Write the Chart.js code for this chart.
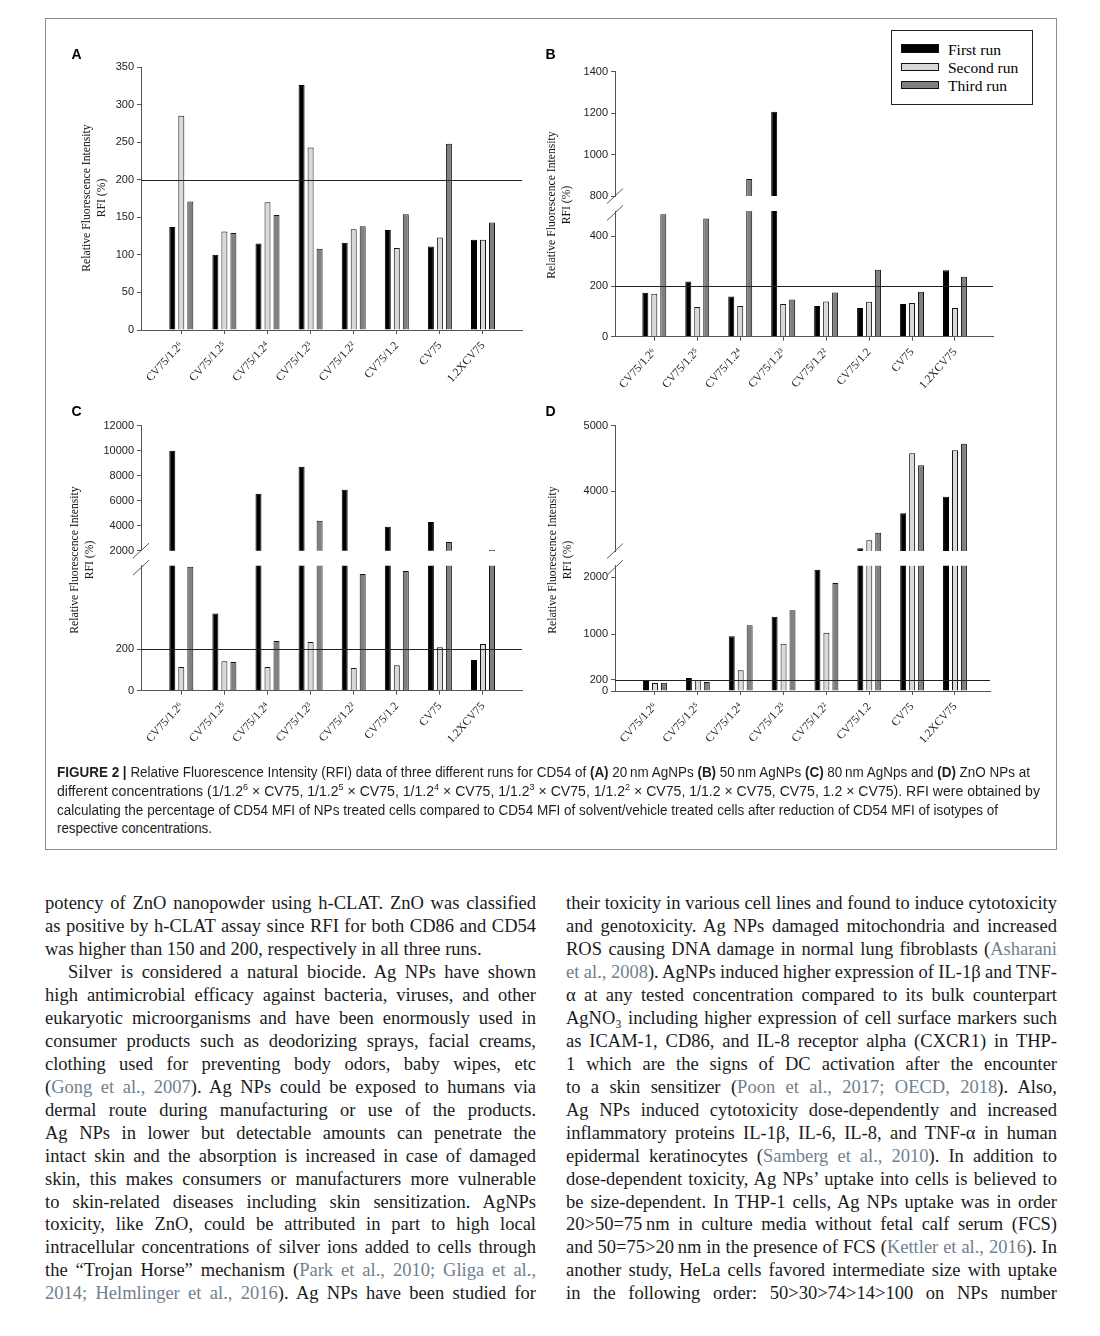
<!DOCTYPE html>
<html lang="en">
<head>
<meta charset="utf-8">
<title>Figure 2 – Relative Fluorescence Intensity (RFI) for CD54</title>
<script src="https://cdn.jsdelivr.net/npm/chart.js@4.4.1/dist/chart.umd.min.js"></script>
<style>
  html,body{margin:0;padding:0;background:#fff;}
  body{position:relative;width:1100px;height:1336px;overflow:hidden;}
  #figbox{position:absolute;left:45px;top:18px;width:1012px;height:832px;border:1px solid #8c8c8c;box-sizing:border-box;}
  canvas.piece{position:absolute;}
  .plabel{position:absolute;font:bold 14px "Liberation Sans",Arial,sans-serif;color:#000;line-height:14px;}
  .ytitle{position:absolute;width:220px;text-align:center;font:11.7px "Liberation Serif","Times New Roman",serif;line-height:15px;color:#111;transform:translate(-50%,-50%) rotate(-90deg);white-space:nowrap;}
  #legend{position:absolute;left:891px;top:30px;width:142px;height:75px;border:1px solid #222;box-sizing:border-box;background:#fff;}
  .lg-sw{position:absolute;width:38px;height:8.5px;box-sizing:border-box;border:1px solid #111;}
  .lg-tx{position:absolute;font:15.5px "Liberation Serif","Times New Roman",serif;line-height:18px;white-space:nowrap;color:#000;}
  .cap{position:absolute;left:57px;font:14px "Liberation Sans",Arial,sans-serif;line-height:18.7px;height:18.7px;white-space:nowrap;color:#1e1e1e;}
  .cap .inner{display:inline-block;transform-origin:0 50%;}
  .body-line{position:absolute;font:18.5px "Liberation Serif","Times New Roman",serif;line-height:23px;height:23px;white-space:nowrap;color:#1a1a1a;}
  .cite{color:#6f7f8f;}
</style>
</head>
<body>
<div id="figbox"></div>

<script>
// ---------------- DATA ----------------
const categories = ['CV75/1.2\u2076','CV75/1.2\u2075','CV75/1.2\u2074','CV75/1.2\u00B3','CV75/1.2\u00B2','CV75/1.2','CV75','1.2XCV75'];
const seriesNames = ['First run','Second run','Third run'];
const seriesColors = ['#000000','#d9d9d9','#808080'];
const threshold = 200;

// (A) 20 nm AgNPs
const aFirst  = [137,100,115,326,116,133,111,120];
const aSecond = [285,131,170,243,134,109,123,120];
const aThird  = [171,129,153,108,138,154,248,143];
// (B) 50 nm AgNPs
const bFirst  = [175,220,160,1207,122,114,130,264];
const bSecond = [171,118,122,130,140,139,134,114];
const bThird  = [487,470,882,148,176,266,179,238];
// (C) 80 nm AgNPs
const cFirst  = [10000,370,6560,8720,6880,3920,4290,147];
const cSecond = [114,141,114,234,109,122,208,224];
const cThird  = [595,138,238,4400,560,574,2693,2080];
// (D) ZnO NPs
const dFirst  = [175,228,960,1304,2130,3131,3665,3918];
const dSecond = [140,193,363,830,1023,3253,4579,4625];
const dThird  = [146,158,1153,1416,1895,3369,4396,4726];

// tick labels
const ticksA = [0,50,100,150,200,250,300,350];
const ticksBUpper = [800,1000,1200,1400];
const ticksBLower = [0,200,400];
const ticksCUpper = [2000,4000,6000,8000,10000,12000];
const ticksCLower = [0,200];
const ticksDUpper = [4000,5000];
const ticksDLower = [0,200,1000,2000];

// ---------------- PLUGINS ----------------
const thresholdPlugin = {
  id:'thr',
  afterDatasetsDraw(chart, args, opts){
    const ys = chart.scales.y, v = opts.value;
    if (v == null || v < ys.min || v > ys.max) return;
    const y = Math.round(ys.getPixelForValue(v)) + 0.5;
    const {left, right} = chart.chartArea, ctx = chart.ctx;
    ctx.save(); ctx.strokeStyle = '#222'; ctx.lineWidth = 1;
    ctx.beginPath(); ctx.moveTo(left, y); ctx.lineTo(right, y); ctx.stroke(); ctx.restore();
  }
};
const breakPlugin = {
  id:'brk',
  afterDraw(chart, args, opts){
    if (!opts.where) return;
    const a = chart.chartArea, ctx = chart.ctx;
    const y = opts.where === 'bottom' ? a.bottom : a.top + 2;
    ctx.save(); ctx.strokeStyle = '#555'; ctx.lineWidth = 1;
    ctx.fillStyle = '#fff';
    ctx.beginPath(); ctx.moveTo(a.left - 8, y + 7.5); ctx.lineTo(a.left + 8, y - 7.5); ctx.stroke();
    ctx.restore();
  }
};

// ---------------- LAYOUT OF CHART PIECES ----------------
const pieces = [
  {data:[aFirst,aSecond,aThird], y:[0,350],     yTicks:ticksA,      area:[141,67,522,330],      x:[-0.935,7.905], hasX:true,  brk:null},
  {data:[bFirst,bSecond,bThird], y:[800,1400],  yTicks:ticksBUpper, area:[615,71.7,993,196],    x:[-0.915,7.885], hasX:false, brk:'bottom'},
  {data:[bFirst,bSecond,bThird], y:[0,500],     yTicks:ticksBLower, area:[615,211,993,336.7],   x:[-0.915,7.885], hasX:true,  brk:'top'},
  {data:[cFirst,cSecond,cThird], y:[2000,12000],yTicks:ticksCUpper, area:[141,425.7,522,550.7], x:[-0.935,7.905], hasX:false, brk:'bottom'},
  {data:[cFirst,cSecond,cThird], y:[0,600],     yTicks:ticksCLower, area:[141,565.7,522,690.7], x:[-0.935,7.905], hasX:true,  brk:'top'},
  {data:[dFirst,dSecond,dThird], y:[3090,5000], yTicks:ticksDUpper, area:[615,425.7,990,551],   x:[-0.933,7.817], hasX:false, brk:'bottom'},
  {data:[dFirst,dSecond,dThird], y:[0,2200],    yTicks:ticksDLower, area:[615,565.7,990,691],   x:[-0.933,7.817], hasX:true,  brk:'top'}
];

function buildPiece(p){
  const [l,t,r,b] = p.area;
  const cl = Math.floor(l - 60), ct = Math.floor(t - 12);
  const cr = Math.ceil(r + 12), cb = Math.ceil(b + (p.hasX ? 80 : 10));
  const cv = document.createElement('canvas');
  cv.className = 'piece';
  cv.width = cr - cl; cv.height = cb - ct;
  cv.style.left = cl + 'px'; cv.style.top = ct + 'px';
  cv.style.width = (cr - cl) + 'px'; cv.style.height = (cb - ct) + 'px';
  document.body.appendChild(cv);
  const yW = l - cl, padTop = t - ct, padRight = cr - r, bottomSpace = cb - b;
  const datasets = p.data.map((vals, k) => ({
    label: seriesNames[k],
    data: vals.map((v, i) => ({x: i, y: v})),
    backgroundColor: seriesColors[k],
    borderColor: k === 0 ? '#000' : '#151515',
    borderWidth: 1,
    borderSkipped: p.hasX ? 'start' : false,
    categoryPercentage: 0.627,
    barPercentage: 0.667,
    clip: 0
  }));
  return new Chart(cv, {
    type: 'bar',
    data: {datasets},
    options: {
      responsive: false, animation: false, devicePixelRatio: 1,
      layout: {autoPadding: false, padding: {left: 0, top: padTop, right: padRight, bottom: p.hasX ? 0 : bottomSpace}},
      plugins: {legend: {display: false}, tooltip: {enabled: false}, title: {display: false},
                thr: {value: threshold}, brk: {where: p.brk}},
      scales: {
        x: {
          type: 'linear', display: p.hasX, min: p.x[0], max: p.x[1], offset: false, bounds: 'data',
          afterBuildTicks: s => { s.ticks = categories.map((c, i) => ({value: i})); },
          afterFit: s => { if (p.hasX) s.height = bottomSpace; },
          grid: {display: true, drawOnChartArea: false, drawTicks: true, tickLength: 4, color: '#555', offset: false},
          border: {display: true, color: '#555', width: 1},
          ticks: {autoSkip: false, minRotation: 48, maxRotation: 48, padding: 5, color: '#222',
                  font: {family: '"Liberation Serif","Times New Roman",serif', size: 11.5},
                  callback: v => categories[v] ?? ''}
        },
        y: {
          type: 'linear', min: p.y[0], max: p.y[1], beginAtZero: false, bounds: 'data',
          afterBuildTicks: s => { s.ticks = p.yTicks.map(v => ({value: v})); },
          afterFit: s => { s.width = yW; },
          grid: {display: true, drawOnChartArea: false, drawTicks: true, tickLength: 4, color: '#555'},
          border: {display: true, color: '#555', width: 1},
          ticks: {padding: 3, color: '#222', font: {family: '"Liberation Sans",Arial,sans-serif', size: 11},
                  callback: v => String(v)}
        }
      }
    },
    plugins: [thresholdPlugin, breakPlugin]
  });
}
pieces.forEach(buildPiece);

// ---------------- TEXT: panel letters, axis titles, legend ----------------
function addDiv(cls, html, style){
  const d = document.createElement('div');
  d.className = cls; d.innerHTML = html;
  Object.assign(d.style, style);
  document.body.appendChild(d);
  return d;
}
[['A',71.5,47],['B',545.5,47],['C',71.5,404],['D',545.5,404]].forEach(([t,x,y]) =>
  addDiv('plabel', t, {left: x + 'px', top: y + 'px'}));

const yTitle = 'Relative Fluorescence Intensity<br>RFI (%)';
[[94,198],[559,205],[81.5,560],[559.5,560]].forEach(([x,y]) =>
  addDiv('ytitle', yTitle, {left: x + 'px', top: y + 'px'}));

addDiv('', '', {}).id = 'legend';
seriesNames.forEach((n, k) => {
  addDiv('lg-sw', '', {left: '901px', top: (44.2 + 18.3 * k) + 'px', background: seriesColors[k]});
  addDiv('lg-tx', n, {left: '948px', top: (49.6 + 18.1 * k - 9) + 'px'});
});

// ---------------- CAPTION ----------------
const captionLines = [
  ['<b>FIGURE 2 |</b> Relative Fluorescence Intensity (RFI) data of three different runs for CD54 of <b>(A)</b> 20\u2009nm AgNPs <b>(B)</b> 50\u2009nm AgNPs <b>(C)</b> 80\u2009nm AgNps and <b>(D)</b> ZnO NPs at', 973],
  ['different concentrations (1/1.2<sup>6</sup> \u00D7 CV75, 1/1.2<sup>5</sup> \u00D7 CV75, 1/1.2<sup>4</sup> \u00D7 CV75, 1/1.2<sup>3</sup> \u00D7 CV75, 1/1.2<sup>2</sup> \u00D7 CV75, 1/1.2 \u00D7 CV75, CV75, 1.2 \u00D7 CV75). RFI were obtained by', 983],
  ['calculating the percentage of CD54 MFI of NPs treated cells compared to CD54 MFI of solvent/vehicle treated cells after reduction of CD54 MFI of isotypes of', 941],
  ['respective concentrations.', 155]
];
captionLines.forEach(([html, w], i) => {
  const d = addDiv('cap', '<span class="inner">' + html.replace(/<sup>/g,'<sup style="font-size:9px;line-height:0">') + '</span>', {top: (763.1 + 18.7 * i) + 'px'});
  const inner = d.firstChild;
  const nat = inner.getBoundingClientRect().width;
  inner.style.transform = 'scaleX(' + (w / nat) + ')';
});

// ---------------- BODY TEXT ----------------
const leftColumn = [
  {t:'potency of ZnO nanopowder using h-CLAT. ZnO was classified'},
  {t:'as positive by h-CLAT assay since RFI for both CD86 and CD54'},
  {t:'was higher than 150 and 200, respectively in all three runs.', last:true},
  {t:'Silver is considered a natural biocide. Ag NPs have shown', ind:23},
  {t:'high antimicrobial efficacy against bacteria, viruses, and other'},
  {t:'eukaryotic microorganisms and have been enormously used in'},
  {t:'consumer products such as deodorizing sprays, facial creams,'},
  {t:'clothing used for preventing body odors, baby wipes, etc'},
  {t:'({Gong et al., 2007}). Ag NPs could be exposed to humans via'},
  {t:'dermal route during manufacturing or use of the products.'},
  {t:'Ag NPs in lower but detectable amounts can penetrate the'},
  {t:'intact skin and the absorption is increased in case of damaged'},
  {t:'skin, this makes consumers or manufacturers more vulnerable'},
  {t:'to skin-related diseases including skin sensitization. AgNPs'},
  {t:'toxicity, like ZnO, could be attributed in part to high local'},
  {t:'intracellular concentrations of silver ions added to cells through'},
  {t:'the \u201CTrojan Horse\u201D mechanism ({Park et al., 2010; Gliga et al.,}'},
  {t:'{2014; Helmlinger et al., 2016}). Ag NPs have been studied for'}
];
const rightColumn = [
  {t:'their toxicity in various cell lines and found to induce cytotoxicity'},
  {t:'and genotoxicity. Ag NPs damaged mitochondria and increased'},
  {t:'ROS causing DNA damage in normal lung fibroblasts ({Asharani}'},
  {t:'{et al., 2008}). AgNPs induced higher expression of IL-1\u03B2 and TNF-'},
  {t:'\u03B1 at any tested concentration compared to its bulk counterpart'},
  {t:'AgNO\u2083 including higher expression of cell surface markers such'},
  {t:'as ICAM-1, CD86, and IL-8 receptor alpha (CXCR1) in THP-'},
  {t:'1 which are the signs of DC activation after the encounter'},
  {t:'to a skin sensitizer ({Poon et al., 2017; OECD, 2018}). Also,'},
  {t:'Ag NPs induced cytotoxicity dose-dependently and increased'},
  {t:'inflammatory proteins IL-1\u03B2, IL-6, IL-8, and TNF-\u03B1 in human'},
  {t:'epidermal keratinocytes ({Samberg et al., 2010}). In addition to'},
  {t:'dose-dependent toxicity, Ag NPs\u2019 uptake into cells is believed to'},
  {t:'be size-dependent. In THP-1 cells, Ag NPs uptake was in order'},
  {t:'20>50=75\u2009nm in culture media without fetal calf serum (FCS)'},
  {t:'and 50=75>20\u2009nm in the presence of FCS ({Kettler et al., 2016}). In'},
  {t:'another study, HeLa cells favored intermediate size with uptake'},
  {t:'in the following order: 50>30>74>14>100 on NPs number'}
];
function esc(s){ return s.replace(/&/g,'&amp;').replace(/</g,'&lt;').replace(/>/g,'&gt;'); }
function layColumn(lines, left, width){
  lines.forEach((ln, i) => {
    const ind = ln.ind || 0;
    const html = esc(ln.t).replace(/\{([^}]*)\}/g, '<span class="cite">$1</span>');
    const d = addDiv('body-line', '<span class="txt">' + html + '</span>',
      {left: (left + ind) + 'px', top: (892.3 + 22.94 * i) + 'px', width: (width - ind) + 'px'});
    if (!ln.last) {
      const sp = d.firstChild;
      const w = sp.getBoundingClientRect().width;
      const n = (sp.textContent.match(/ /g) || []).length;
      if (n) sp.style.wordSpacing = ((width - ind - w) / n) + 'px';
    }
  });
}
layColumn(leftColumn, 45, 491);
layColumn(rightColumn, 566, 491);
</script>
</body>
</html>
